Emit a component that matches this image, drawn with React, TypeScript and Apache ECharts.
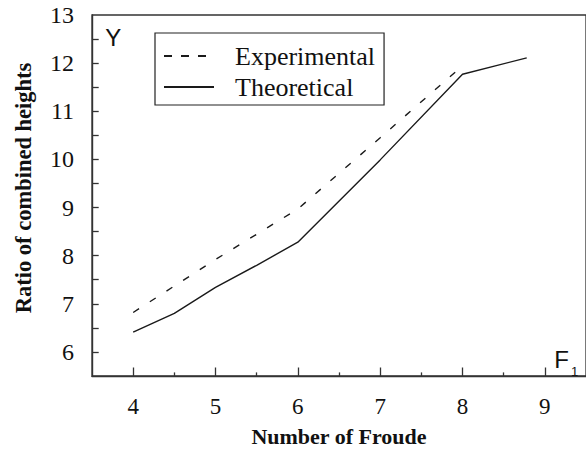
import React, { useEffect, useRef } from "react";
import * as echarts from "echarts";

// ---- data ----
const theoreticalFroude = [4, 4.5, 5, 5.5, 6, 7, 8, 8.78];
const theoreticalRatio = [6.41, 6.8, 7.34, 7.8, 8.28, 9.99, 11.77, 12.11];
const experimentalFroude = [4, 5, 6, 7, 7.95];
const experimentalRatio = [6.82, 7.92, 8.97, 10.45, 11.87];

const xMajorTicks = [4, 5, 6, 7, 8, 9];
const xMinorTicks = [4.5, 5.5, 6.5, 7.5, 8.5];
const yTickValues = [6, 6.5, 7, 7.5, 8, 8.5, 9, 9.5, 10, 10.5, 11, 11.5, 12, 12.5];
const yLabelValues = [6, 7, 8, 9, 10, 11, 12, 13];

const X_MIN = 3.5;
const X_MAX = 9.5;
const Y_MIN = 5.5;
const Y_MAX = 13;

const SERIF = "Liberation Serif";
const SANS = "Liberation Sans";
const INK = "#1a1a1a";
const AXIS = "#333333";

function zip(xs: number[], ys: number[]) {
  return xs.map((x, i) => [x, ys[i]]);
}

export default function App() {
  const ref = useRef<HTMLDivElement>(null);

  useEffect(() => {
    document.body.style.margin = "0";
    if (!ref.current) return;
    const chart = echarts.init(ref.current, null, { renderer: "svg" });

    chart.setOption({
      animation: false,
      backgroundColor: "#ffffff",
      textStyle: { fontFamily: SERIF, color: "#111" },
      grid: {
        left: 92,
        top: 15,
        width: 496,
        height: 364,
        show: true,
        borderColor: AXIS,
        borderWidth: 1.3,
        backgroundColor: "transparent",
      },
      legend: {
        orient: "vertical",
        left: 155,
        top: 33,
        itemWidth: 50,
        itemHeight: 2,
        itemGap: 5,
        padding: [10, 9, 5, 8],
        borderColor: "#222",
        borderWidth: 1.2,
        itemStyle: { color: "transparent", borderWidth: 0, opacity: 0 },
        formatter: "{t|{name}}",
        textStyle: {
          fontFamily: SERIF,
          fontSize: 26,
          color: "#111",
          padding: [0, 0, 0, 16],
          rich: { t: { fontFamily: SERIF, fontSize: 26, color: "#111" } },
        },
        data: [
          { name: "Experimental", lineStyle: { type: [8, 9] } },
          { name: "Theoretical" },
        ],
      },
      xAxis: [
        {
          type: "value",
          min: X_MIN,
          max: X_MAX,
          splitLine: { show: false },
          axisLine: { show: true, lineStyle: { color: AXIS, width: 1.4 } },
          axisTick: {
            show: true,
            inside: true,
            length: 8.5,
            customValues: xMajorTicks,
            lineStyle: { color: AXIS, width: 1.3 },
          },
          axisLabel: {
            customValues: xMajorTicks,
            fontFamily: SERIF,
            fontWeight: "normal",
            fontStyle: "normal",
            fontSize: 23,
            color: "#111",
            margin: 19,
          },
          name: "Number of Froude",
          nameLocation: "middle",
          nameGap: 49,
          nameTextStyle: {
            fontFamily: SERIF,
            fontWeight: "bold",
            fontSize: 22,
            color: "#111",
          },
        },
        {
          type: "value",
          min: X_MIN,
          max: X_MAX,
          position: "bottom",
          splitLine: { show: false },
          axisLine: { show: false },
          axisTick: {
            show: true,
            inside: true,
            length: 3.6,
            customValues: xMinorTicks,
            lineStyle: { color: AXIS, width: 1.3 },
          },
          axisLabel: { show: false },
        },
      ],
      yAxis: {
        type: "value",
        min: Y_MIN,
        max: Y_MAX,
        splitLine: { show: false },
        axisLine: { show: true, lineStyle: { color: AXIS, width: 1.4 } },
        axisTick: {
          show: true,
          inside: true,
          length: 6.7,
          customValues: yTickValues,
          lineStyle: { color: AXIS, width: 1.3 },
        },
        axisLabel: {
          customValues: yLabelValues,
          formatter: "{v|{value}}",
          rich: { v: { fontFamily: SERIF, fontSize: 24, color: "#111" } },
          fontFamily: SERIF,
          fontSize: 24,
          color: "#111",
          margin: 18,
        },
        name: "Ratio of combined heights",
        nameLocation: "middle",
        nameGap: 57,
        nameTextStyle: {
          fontFamily: SERIF,
          fontWeight: "bold",
          fontSize: 22.5,
          color: "#111",
          padding: [0, 0, 0, 15],
        },
      },
      graphic: [
        {
          type: "text",
          x: 113.3,
          y: 37.5,
          style: {
            text: "Y",
            fontFamily: SANS,
            fontSize: 24,
            fill: "#111",
            align: "center",
            verticalAlign: "middle",
          },
        },
        {
          type: "text",
          x: 561.7,
          y: 359.5,
          style: {
            text: "F",
            fontFamily: SANS,
            fontSize: 24,
            fill: "#111",
            align: "center",
            verticalAlign: "middle",
          },
        },
        {
          type: "text",
          x: 574.7,
          y: 371.8,
          style: {
            text: "1",
            fontFamily: SANS,
            fontSize: 13,
            fill: "#111",
            align: "center",
            verticalAlign: "middle",
          },
        },
      ],
      series: [
        {
          name: "Experimental",
          type: "line",
          xAxisIndex: 0,
          symbol: "none",
          data: zip(experimentalFroude, experimentalRatio),
          lineStyle: { color: INK, width: 1.4, type: [7, 12.8] },
          itemStyle: { color: INK },
        },
        {
          name: "Theoretical",
          type: "line",
          xAxisIndex: 0,
          symbol: "none",
          data: zip(theoreticalFroude, theoreticalRatio),
          lineStyle: { color: INK, width: 1.4, type: "solid" },
          itemStyle: { color: INK },
        },
      ],
    });

    return () => chart.dispose();
  }, []);

  return <div ref={ref} style={{ width: 586, height: 452 }} />;
}
